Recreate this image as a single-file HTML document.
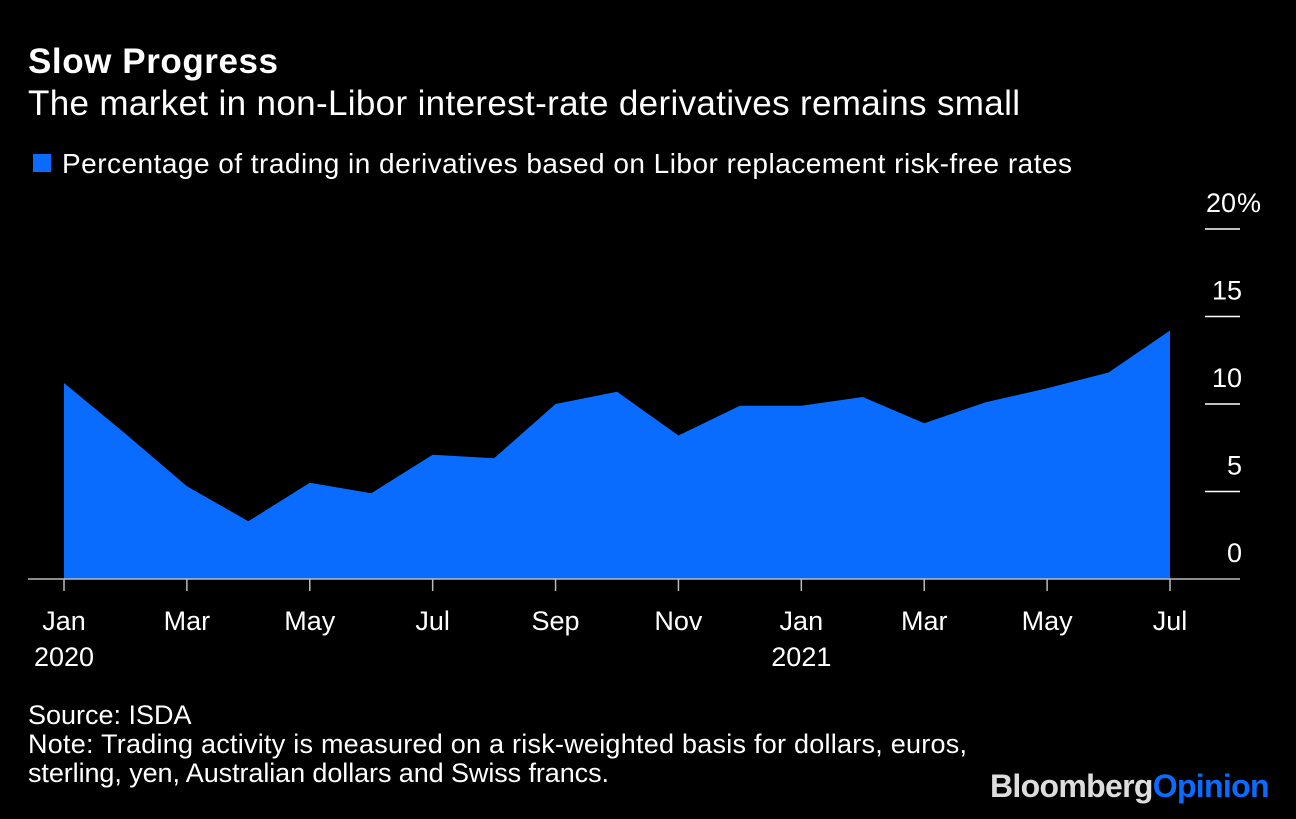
<!DOCTYPE html>
<html><head><meta charset="utf-8"><style>
body{margin:0;background:#000;width:1296px;height:814px;overflow:hidden;font-family:"Liberation Sans",Arial,sans-serif;color:#fff}
svg text{font-family:"Liberation Sans",Arial,sans-serif}
</style></head><body>
<svg width="1296" height="814" viewBox="0 0 1296 814">
<rect width="1296" height="814" fill="#000"/>
<text x="28" y="73" font-size="35" font-weight="bold" fill="#fff" textLength="250">Slow Progress</text>
<text x="28" y="115" font-size="35" fill="#fff" textLength="992">The market in non-Libor interest-rate derivatives remains small</text>
<rect x="33" y="154" width="18" height="18" fill="#0a6cff"/>
<text x="62" y="173" font-size="28" fill="#fff" textLength="1010">Percentage of trading in derivatives based on Libor replacement risk-free rates</text>
<g id="plot"></g>
<text x="28" y="724" font-size="27" fill="#fff">Source: ISDA</text>
<text x="28" y="753" font-size="27" fill="#fff" textLength="939">Note: Trading activity is measured on a risk-weighted basis for dollars, euros,</text>
<text x="28" y="782" font-size="27" fill="#fff" textLength="581">sterling, yen, Australian dollars and Swiss francs.</text>
<text x="990" y="797" font-size="32" font-weight="bold" textLength="278" letter-spacing="-1.5"><tspan fill="#ddd">Bloomberg</tspan><tspan fill="#0a6cff">Opinion</tspan></text>
</svg>
<script>
const values=[11.2,8.3,5.3,3.3,5.5,4.9,7.1,6.9,10.0,10.7,8.2,9.9,9.9,10.4,8.9,10.1,10.9,11.8,14.2];
const yTicks=[0,5,10,15,20];
const yTickLabels=["0","5","10","15","20"];
const xLabels=[["Jan","2020"],["Mar",""],["May",""],["Jul",""],["Sep",""],["Nov",""],["Jan","2021"],["Mar",""],["May",""],["Jul",""]];
const NS="http://www.w3.org/2000/svg";
const g=document.getElementById('plot');
const x=i=>64+i*(1170-64)/18;
const y=v=>579-v*(579-229)/20;
function mk(t,a){const e=document.createElementNS(NS,t);for(const k in a)e.setAttribute(k,a[k]);g.appendChild(e);return e;}
let d=`M${x(0)},${y(0)}`;
values.forEach((v,i)=>d+=`L${x(i)},${y(v)}`);
d+=`L${x(values.length-1)},${y(0)}Z`;
const area=mk('path',{d:d,fill:'#0a6cff'});


yTicks.forEach((t,i)=>{
  if(t>0){const l=mk('line',{x1:1205,x2:1240,y1:y(t),y2:y(t),stroke:'#fff','stroke-width':1.5});
  
  }
  const last=i===yTicks.length-1;
  const tx=mk('text',{x:last?1236:1242,y:y(t)-17,'font-size':27,fill:'#fff','text-anchor':'end'});
  tx.textContent=yTickLabels[i];
  
  
  if(last){const p=mk('text',{x:1237,y:y(t)-17,'font-size':27,fill:'#fff'});p.textContent='%';
  
  }
});
const base=mk('line',{x1:28,x2:1240,y1:579,y2:579,stroke:'#bbb','stroke-width':1.5});


xLabels.forEach((lb,i)=>{
  const xi=x(i*2);
  const tk=mk('line',{x1:xi,x2:xi,y1:579,y2:591,stroke:'#bbb','stroke-width':1.5});
  
  
  const t=mk('text',{x:xi,y:630,'font-size':27,fill:'#fff','text-anchor':'middle'});t.textContent=lb[0];
  
  
  if(lb[1]){const t2=mk('text',{x:xi,y:666,'font-size':27,fill:'#fff','text-anchor':'middle'});t2.textContent=lb[1];
  
  }
});
</script>
</body></html>
